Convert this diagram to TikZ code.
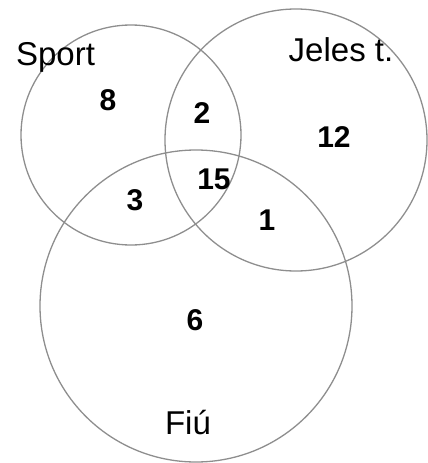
\documentclass[tikz,border=0pt]{standalone}
\usepackage{fontspec}
\setmainfont{Liberation Sans}
\definecolor{ring}{HTML}{8E8E8E}
\begin{document}
\begin{tikzpicture}[x=1pt,y=-1pt,
  setring/.style={draw=ring,line width=1.3pt,circle,inner sep=0pt},
  setlabel/.style={anchor=base,inner sep=0pt,font=\fontsize{33}{33}\selectfont},
  count/.style={anchor=base,inner sep=0pt,font=\fontsize{30}{30}\selectfont\bfseries}]
\useasboundingbox (0,0) rectangle (428,463);
\node[setring,minimum size=220pt] (sport) at (131,135) {};
\node[setring,minimum size=262pt] (jeles) at (296,140) {};
\node[setring,minimum size=312pt] (fiu) at (196,306) {};
\node[setlabel] (lsport) at (55.5,65) {Sport};
\node[setlabel] (ljeles) at (341,61) {Jeles t.};
\node[setlabel] (lfiu) at (188,434) {Fiú};
\node[count] (n8) at (108,110) {8};
\node[count] (n2) at (202,123) {2};
\node[count] (n12) at (334,147) {12};
\node[count] (n15) at (214,189) {15};
\node[count] (n3) at (135,210) {3};
\node[count] (n1) at (267,230) {1};
\node[count] (n6) at (195,330) {6};
\end{tikzpicture}
\end{document}
